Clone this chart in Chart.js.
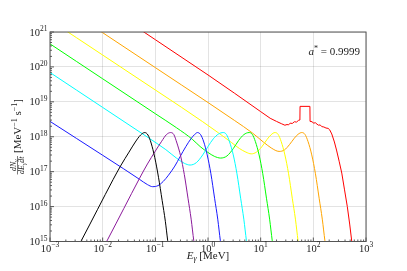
<!DOCTYPE html>
<html>
<head>
<meta charset="utf-8">
<script src="https://cdn.jsdelivr.net/npm/chart.js@4"></script>
<style>
  html, body { margin: 0; padding: 0; background: #fff; }
</style>
</head>
<body>
<canvas id="spectra" width="407" height="271"></canvas>
<script>
/* photon spectra, values as log10(E / MeV) and log10(dN/dEdt) */

var blackLogE = [-2.8, -2.4, -2.1, -1.8, -1.65, -1.5, -1.38, -1.28, -1.2, -1.14, -1.08, -1.01, -0.94, -0.87, -0.81, -0.765, -0.71];
var blackLogN = [13.92, 15.04, 15.91, 16.78, 17.19, 17.56, 17.85, 18.05, 18.12, 18.05, 17.82, 17.4, 16.84, 16.17, 15.58, 15.02, 14.4];

var purpleLogE = [-2.3, -1.9, -1.6, -1.3, -1.15, -1.0, -0.88, -0.79, -0.71, -0.65, -0.59, -0.52, -0.45, -0.38, -0.32, -0.27, -0.21];
var purpleLogN = [13.94, 15.07, 15.94, 16.81, 17.22, 17.59, 17.87, 18.06, 18.12, 18.065, 17.82, 17.45, 16.92, 16.24, 15.64, 15.02, 14.39];

var blueLogE = [-3.0, -2.5, -2.0, -1.6, -1.3, -1.15, -1.05, -0.95, -0.85, -0.75, -0.63, -0.53, -0.42, -0.32, -0.25, -0.2, -0.14, -0.08, -0.015, 0.055, 0.125, 0.185, 0.235, 0.295];
var blueLogN = [18.44, 17.955, 17.47, 17.08, 16.78, 16.63, 16.57, 16.6, 16.72, 16.9, 17.16, 17.43, 17.72, 17.95, 18.07, 18.12, 18.06, 17.85, 17.48, 16.94, 16.24, 15.64, 15.02, 14.4];

var cyanLogE = [-3.0, -2.5, -2.0, -1.5, -1.1, -0.8, -0.6, -0.45, -0.34, -0.22, -0.1, 0.0, 0.1, 0.2, 0.29, 0.35, 0.41, 0.48, 0.55, 0.62, 0.68, 0.73, 0.79];
var cyanLogN = [19.84, 19.34, 18.84, 18.34, 17.94, 17.63, 17.39, 17.24, 17.19, 17.26, 17.48, 17.72, 17.94, 18.08, 18.12, 18.065, 17.85, 17.48, 16.94, 16.24, 15.64, 15.02, 14.4];

var greenLogE = [-3.0, -2.5, -2.0, -1.5, -1.0, -0.6, -0.3, -0.15, 0.0, 0.12, 0.24, 0.36, 0.48, 0.58, 0.68, 0.78, 0.84, 0.9, 0.97, 1.04, 1.11, 1.17, 1.22, 1.28];
var greenLogN = [20.66, 20.16, 19.66, 19.16, 18.66, 18.26, 17.93, 17.72, 17.55, 17.44, 17.39, 17.45, 17.66, 17.89, 18.06, 18.12, 18.07, 17.86, 17.48, 16.94, 16.24, 15.64, 15.02, 14.4];

var yellowLogE = [-3.0, -2.5, -2.0, -1.5, -1.0, -0.5, -0.1, 0.2, 0.45, 0.6, 0.72, 0.82, 0.92, 1.02, 1.12, 1.2, 1.27, 1.33, 1.39, 1.46, 1.53, 1.6, 1.66, 1.71, 1.77];
var yellowLogN = [21.34, 20.84, 20.34, 19.84, 19.34, 18.84, 18.43, 18.11, 17.83, 17.66, 17.56, 17.51, 17.56, 17.71, 17.92, 18.06, 18.12, 18.07, 17.86, 17.48, 16.94, 16.24, 15.64, 15.02, 14.4];

var orangeLogE = [-3.0, -2.5, -2.0, -1.5, -1.0, -0.5, 0.0, 0.5, 0.85, 1.05, 1.2, 1.35, 1.45, 1.55, 1.64, 1.71, 1.78, 1.84, 1.9, 1.97, 2.04, 2.11, 2.17, 2.22, 2.28];
var orangeLogN = [21.98, 21.48, 20.98, 20.48, 19.98, 19.48, 18.98, 18.47, 18.1, 17.85, 17.68, 17.58, 17.62, 17.78, 17.96, 18.07, 18.12, 18.07, 17.86, 17.48, 16.94, 16.24, 15.64, 15.02, 14.4];

var redLogE = [-3.0, -2.0, -1.0, 0.0, 0.5, 1.0, 1.18, 1.3, 1.4, 1.46, 1.5, 1.53, 1.56, 1.6, 1.64, 1.68, 1.72, 1.745, 1.748, 1.935, 1.938, 1.98, 2.0, 2.04, 2.07, 2.1, 2.13, 2.16, 2.2, 2.24, 2.28, 2.31, 2.35, 2.4, 2.44, 2.49, 2.54, 2.59, 2.645, 2.69, 2.73, 2.78];
var redLogN = [22.79, 21.79, 20.78, 19.77, 19.25, 18.72, 18.53, 18.44, 18.37, 18.33, 18.35, 18.34, 18.39, 18.38, 18.43, 18.42, 18.47, 18.48, 18.87, 18.87, 18.44, 18.43, 18.39, 18.40, 18.36, 18.33, 18.34, 18.29, 18.28, 18.25, 18.24, 18.2, 18.08, 17.85, 17.62, 17.3, 16.96, 16.5, 16.0, 15.5, 15.0, 14.4];

var spinLabel = '0.9999';

var serif = '"Liberation Serif", "DejaVu Serif", serif';
var gridColor = 'rgba(0,0,0,0.11)';

var curves = [
    { color: '#000000', logE: blackLogE, logN: blackLogN, smooth: true },
    { color: '#8b1a9b', logE: purpleLogE, logN: purpleLogN, smooth: true },
    { color: '#1a1aff', logE: blueLogE, logN: blueLogN, smooth: true },
    { color: '#00ffff', logE: cyanLogE, logN: cyanLogN, smooth: true },
    { color: '#00ff00', logE: greenLogE, logN: greenLogN, smooth: true },
    { color: '#ffff00', logE: yellowLogE, logN: yellowLogN, smooth: true },
    { color: '#ffa500', logE: orangeLogE, logN: orangeLogN, smooth: true },
    { color: '#ff0000', logE: redLogE, logN: redLogN, smooth: false }
];

function isDecade(v) {
    var l = Math.log10(v);
    return Math.abs(l - Math.round(l)) < 1e-6;
}

// "10" with a raised exponent, as runs
function powRuns(v) {
    return [
        { t: '10', font: '10.5px ' + serif },
        { t: String(Math.round(Math.log10(v))).replace('-', '−'), font: '7.5px ' + serif, dy: -4.5 }
    ];
}

// draw a row of text pieces with their own font / vertical shift
function runsWidth(ctx, runs) {
    var w = 0;
    runs.forEach(function (r) { ctx.font = r.font; w += ctx.measureText(r.t).width; });
    return w;
}
function drawRuns(ctx, runs, x, y) {
    runs.forEach(function (r) {
        ctx.font = r.font;
        ctx.fillText(r.t, x, y + (r.dy || 0));
        x += ctx.measureText(r.t).width;
    });
}

var decorations = {
    id: 'decorations',
    afterDatasetsDraw: function (chart) {
        var ctx = chart.ctx, a = chart.chartArea, xs = chart.scales.x, ys = chart.scales.y;
        ctx.save();

        // inward ticks on bottom and left
        ctx.strokeStyle = '#333';
        ctx.lineWidth = 0.8;
        ctx.beginPath();
        var e, m, v, p;
        for (e = Math.round(Math.log10(xs.min)); e <= Math.round(Math.log10(xs.max)); e++) {
            for (m = 1; m <= 9; m++) {
                v = m * Math.pow(10, e);
                if (v > xs.max * 1.0001) break;
                p = xs.getPixelForValue(v);
                ctx.moveTo(p, a.bottom);
                ctx.lineTo(p, a.bottom - (m === 1 ? 4 : 2));
            }
        }
        for (e = Math.round(Math.log10(ys.min)); e <= Math.round(Math.log10(ys.max)); e++) {
            for (m = 1; m <= 9; m++) {
                v = m * Math.pow(10, e);
                if (v > ys.max * 1.0001) break;
                p = ys.getPixelForValue(v);
                ctx.moveTo(a.left, p);
                ctx.lineTo(a.left + (m === 1 ? 4 : 2), p);
            }
        }
        ctx.stroke();

        // frame
        ctx.strokeStyle = '#555';
        ctx.lineWidth = 1;
        ctx.strokeRect(a.left, a.top, a.right - a.left, a.bottom - a.top);

        ctx.fillStyle = '#222';
        ctx.textBaseline = 'alphabetic';
        ctx.textAlign = 'left';

        // decade tick labels
        xs.ticks.forEach(function (t) {
            if (!isDecade(t.value)) return;
            var r = powRuns(t.value);
            drawRuns(ctx, r, xs.getPixelForValue(t.value) - runsWidth(ctx, r) / 2, a.bottom + 10);
        });
        ys.ticks.forEach(function (t) {
            if (!isDecade(t.value)) return;
            var r = powRuns(t.value);
            drawRuns(ctx, r, a.left - 2.5 - runsWidth(ctx, r), ys.getPixelForValue(t.value) + 3.5);
        });

        // spin annotation
        var spin = [
            { t: 'a', font: 'italic 11px ' + serif },
            { t: '*', font: '8px ' + serif, dy: -4 },
            { t: ' = ' + spinLabel, font: '11px ' + serif }
        ];
        drawRuns(ctx, spin, a.right - 6 - runsWidth(ctx, spin), a.top + 23);

        // x title
        var xt = [
            { t: 'E', font: 'italic 11px ' + serif },
            { t: 'γ', font: 'italic 8px ' + serif, dy: 2.5 },
            { t: ' [MeV]', font: '11px ' + serif }
        ];
        drawRuns(ctx, xt, (a.left + a.right) / 2 - runsWidth(ctx, xt) / 2, a.bottom + 17);

        // y title, rotated
        var num = [
            { t: 'dN', font: 'italic 8px ' + serif },
            { t: 'γ', font: 'italic 6px ' + serif, dy: 1.5 }
        ];
        var den = [
            { t: 'dE', font: 'italic 8px ' + serif },
            { t: 'γ', font: 'italic 6px ' + serif, dy: 1.5 },
            { t: 'dt', font: 'italic 8px ' + serif }
        ];
        var br = [
            { t: '[MeV', font: '11px ' + serif },
            { t: '−1', font: '8px ' + serif, dy: -4 },
            { t: ' s', font: '11px ' + serif },
            { t: '−1', font: '8px ' + serif, dy: -4 },
            { t: ']', font: '11px ' + serif }
        ];
        var nw = runsWidth(ctx, num), dw = runsWidth(ctx, den), bw = runsWidth(ctx, br);
        var fw = Math.max(nw, dw) + 1, gap = 3, total = fw + gap + bw;
        ctx.translate(21, (a.top + a.bottom) / 2);
        ctx.rotate(-Math.PI / 2);
        var u0 = -total / 2;
        drawRuns(ctx, num, u0 + (fw - nw) / 2, -5);
        drawRuns(ctx, den, u0 + (fw - dw) / 2, 3);
        ctx.strokeStyle = '#222';
        ctx.lineWidth = 0.6;
        ctx.beginPath();
        ctx.moveTo(u0, -3.5);
        ctx.lineTo(u0 + fw, -3.5);
        ctx.stroke();
        drawRuns(ctx, br, u0 + fw + gap, 0);

        ctx.restore();
    }
};

function axisGrid(ctx) {
    return ctx.tick && isDecade(ctx.tick.value) ? gridColor : 'rgba(0,0,0,0)';
}

var spectra = new Chart(document.getElementById('spectra'), {
    type: 'line',
    data: {
        datasets: curves.map(function (c) {
            return {
                data: c.logE.map(function (le, i) {
                    return { x: Math.pow(10, le), y: Math.pow(10, c.logN[i]) };
                }),
                borderColor: c.color,
                borderWidth: 1,
                pointRadius: 0,
                fill: false,
                cubicInterpolationMode: c.smooth ? 'monotone' : 'default',
                tension: 0
            };
        })
    },
    options: {
        responsive: false,
        animation: false,
        devicePixelRatio: 1,
        layout: { padding: { top: 32, right: 41, left: 0, bottom: 0 } },
        plugins: {
            legend: { display: false },
            tooltip: { enabled: false }
        },
        scales: {
            x: {
                type: 'logarithmic',
                min: 1e-3,
                max: 1e3,
                afterFit: function (s) { s.height = 29.5; },
                border: { display: false },
                grid: { color: axisGrid, lineWidth: 1, drawTicks: false },
                ticks: { display: false, autoSkip: false }
            },
            y: {
                type: 'logarithmic',
                min: 1e15,
                max: 1e21,
                afterFit: function (s) { s.width = 50; },
                border: { display: false },
                grid: { color: axisGrid, lineWidth: 1, drawTicks: false },
                ticks: { display: false, autoSkip: false }
            }
        }
    },
    plugins: [decorations]
});
</script>
</body>
</html>
